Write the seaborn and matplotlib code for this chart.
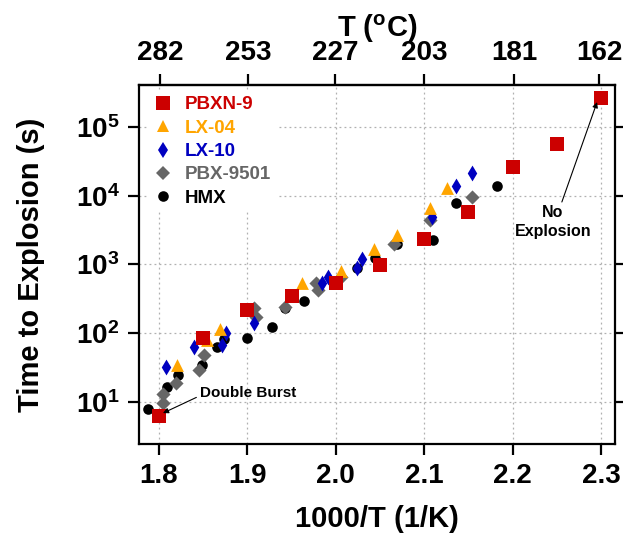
import numpy as np
import pandas as pd
import matplotlib
matplotlib.use("Agg")
import matplotlib.pyplot as plt
from matplotlib.ticker import FixedLocator, FuncFormatter, NullLocator
from matplotlib.lines import Line2D
import seaborn as sns

# ---- data: inverse temperature (1000/T, 1/K) and time to explosion (s) ----
pbxn9_x = [1.80, 1.85, 1.90, 1.95, 2.00, 2.05, 2.10, 2.15, 2.20, 2.25, 2.30]
pbxn9_t = [6.3, 85, 220, 345, 540, 970, 2350, 5750, 26000, 56000, 260000]

lx04_x = [1.820, 1.854, 1.869, 1.962, 2.006, 2.043, 2.069, 2.107, 2.126]
lx04_t = [35, 80, 115, 535, 790, 1670, 2690, 6700, 12900]

lx10_x = [1.808, 1.840, 1.871, 1.876, 1.907, 1.984, 1.991, 2.024, 2.030, 2.109, 2.136, 2.154]
lx10_t = [32, 63, 67, 100, 140, 530, 650, 900, 1200, 4900, 13800, 21000]

pbx9501_x = [1.804, 1.805, 1.819, 1.845, 1.851, 1.908, 1.910, 1.943, 1.978, 1.980, 2.006, 2.066, 2.107, 2.154]
pbx9501_t = [13, 9.7, 19, 29, 48, 230, 175, 240, 535, 420, 650, 2000, 4440, 9600]

hmx_x = [1.788, 1.809, 1.821, 1.849, 1.866, 1.874, 1.899, 1.928, 1.943, 1.964, 2.024, 2.044, 2.069, 2.110, 2.136, 2.182]
hmx_t = [7.9, 16.5, 24.6, 35, 63, 83, 85, 123, 233, 295, 890, 1230, 2000, 2300, 7770, 13800]

x_ticks = [1.8, 1.9, 2.0, 2.1, 2.2, 2.3]
celsius_ticks = [282, 253, 227, 203, 181, 162]

# ---- style ----
sns.set_style("ticks")
plt.rcParams["font.family"] = ["Liberation Sans", "DejaVu Sans"]
plt.rcParams["font.weight"] = "bold"
plt.rcParams["text.color"] = "black"
plt.rcParams["axes.labelcolor"] = "black"
plt.rcParams["xtick.color"] = "black"
plt.rcParams["ytick.color"] = "black"
plt.rcParams["mathtext.fontset"] = "custom"
plt.rcParams["mathtext.rm"] = "Liberation Sans:bold"
plt.rcParams["mathtext.bf"] = "Liberation Sans:bold"
plt.rcParams["mathtext.it"] = "Liberation Sans:bold"

series = [
    # name, x, t, colour, marker, size
    ("HMX", hmx_x, hmx_t, "#000000", "o", 58),
    ("PBX-9501", pbx9501_x, pbx9501_t, "#666666", "D", 52),
    ("LX-10", lx10_x, lx10_t, "#0000C0", "d", 65),
    ("LX-04", lx04_x, lx04_t, "#FFA500", "^", 85),
    ("PBXN-9", pbxn9_x, pbxn9_t, "#CC0000", "s", 105),
]

fig = plt.figure(figsize=(6.23, 5.35), dpi=100)
ax = fig.add_axes([0.2231, 0.170, 0.7641, 0.671])

for name, xs, ts, col, mk, sz in series:
    df = pd.DataFrame({"x": xs, "t": ts})
    sns.scatterplot(data=df, x="x", y="t", ax=ax, color=col, marker=mk, s=sz,
                    linewidth=0, zorder=3, legend=False)

ax.set_yscale("log")
ax.set_xlim(1.7774, 2.3158)
ax.set_ylim(2.45, 4.05e5)

ax.xaxis.set_major_locator(FixedLocator(x_ticks))
ax.xaxis.set_major_formatter(FuncFormatter(lambda v, p: f"{v:.1f}"))
ax.yaxis.set_major_locator(FixedLocator([1e1, 1e2, 1e3, 1e4, 1e5]))
ax.yaxis.set_minor_locator(NullLocator())
ax.yaxis.set_major_formatter(FuncFormatter(lambda v, p: r"$\mathbf{10^{%d}}$" % round(np.log10(v))))

ax.grid(True, which="major", linestyle=(0, (1.5, 2.5)), color="#B0B0B0", linewidth=0.9)
ax.set_axisbelow(True)

for sp in ax.spines.values():
    sp.set_linewidth(1.6)
    sp.set_color("black")

ax.tick_params(axis="both", which="major", direction="out", length=8, width=1.6,
               labelsize=20, pad=6, colors="black")
ax.tick_params(axis="y", right=True)

ax.set_xlabel("1000/T (1/K)", fontsize=21, fontweight="bold", labelpad=11, color="black")
ax.set_ylabel("Time to Explosion (s)", fontsize=21, fontweight="bold", labelpad=22, color="black")

# Celsius scale on the top axis
def inv_to_c(x):
    x = np.asarray(x, dtype=float)
    with np.errstate(divide="ignore"):
        return 1000.0 / x - 273.15

def c_to_inv(c):
    c = np.asarray(c, dtype=float)
    with np.errstate(divide="ignore"):
        return 1000.0 / (c + 273.15)

top = ax.secondary_xaxis("top", functions=(inv_to_c, c_to_inv))
top.xaxis.set_major_locator(FixedLocator(celsius_ticks))
top.xaxis.set_minor_locator(NullLocator())
top.xaxis.set_major_formatter(FuncFormatter(lambda v, p: f"{v:.0f}"))
top.tick_params(axis="x", direction="out", length=8, width=1.6, labelsize=20, pad=6,
                colors="black")
top.spines["top"].set_linewidth(1.6)
top.set_xlabel(r"T ($^{\rm o}$C)", fontsize=21, fontweight="bold", labelpad=2, color="black")

# legend in listed order with text coloured like the markers
order = ["PBXN-9", "LX-04", "LX-10", "PBX-9501", "HMX"]
lookup = {s[0]: s for s in series}
handles = []
for nm in order:
    _, _, _, col, mk, sz = lookup[nm]
    handles.append(Line2D([], [], linestyle="none", marker=mk, color=col,
                          markersize=np.sqrt(sz), markeredgewidth=0))
leg = ax.legend(handles, order, loc="upper left", bbox_to_anchor=(0.008, 1.0),
                frameon=True, facecolor="white", edgecolor="none", framealpha=1,
                labelspacing=0.33, handlelength=1.0, handletextpad=0.65,
                borderpad=0.3, borderaxespad=0.3,
                labelcolor=[lookup[n][3] for n in order],
                prop={"weight": "bold", "size": 13.5})
leg.set_zorder(5)

arrow = dict(arrowstyle="-|>", color="black", lw=0.8, mutation_scale=8, shrinkA=0, shrinkB=0)
ax.annotate("Double Burst", xy=(1.8045, 6.9), xytext=(1.846, 13.5),
            ha="left", va="center", fontsize=11, fontweight="bold", color="black",
            arrowprops=dict(arrow, relpos=(0.0, 0.3)), zorder=6)
ax.annotate("No\nExplosion", xy=(2.2955, 2.29e5), xytext=(2.2457, 4130),
            ha="center", va="center", multialignment="center", fontsize=11.5,
            fontweight="bold", linespacing=1.3, color="black",
            arrowprops=dict(arrow, relpos=(0.6, 1.0)), zorder=6)

fig.savefig("out.png", dpi=100)
